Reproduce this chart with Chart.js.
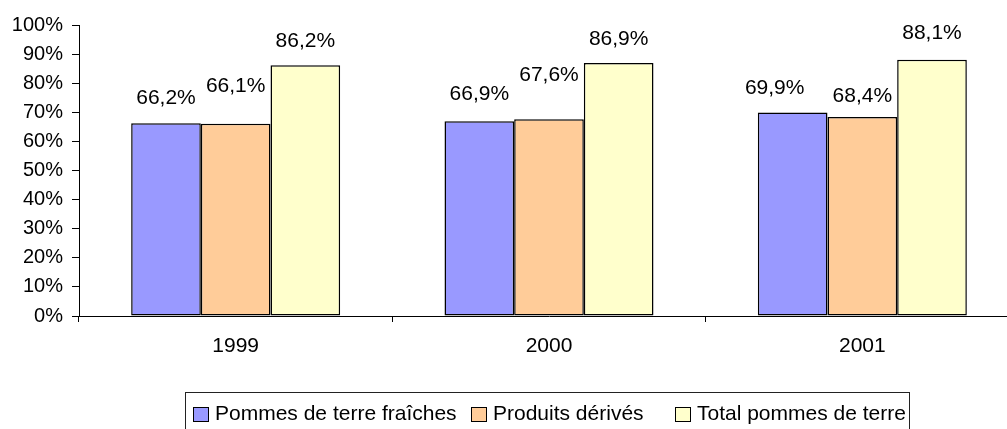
<!DOCTYPE html>
<html>
<head>
<meta charset="utf-8">
<script src="https://cdn.jsdelivr.net/npm/chart.js@4.4.1/dist/chart.umd.min.js"></script>
<style>
  html, body { margin: 0; padding: 0; background: #fff; overflow: hidden; }
  #wrap { width: 1007px; height: 429px; overflow: hidden; position: relative; }
  canvas { display: block; }
</style>
</head>
<body>
<div id="wrap"><canvas id="c" width="1019" height="429"></canvas></div>
<script>
// ---- data ----
const categories = ['1999', '2000', '2001'];
const seriesNames = ['Pommes de terre fraîches', 'Produits dérivés', 'Total pommes de terre'];
const fresh = [66.2, 66.9, 69.9];
const derived = [66.1, 67.6, 68.4];
const total = [86.2, 86.9, 88.1];
const yTicks = [0, 10, 20, 30, 40, 50, 60, 70, 80, 90, 100];

// ---- styles ----
const FONT = '"Liberation Sans", Arial, sans-serif';
const colors = ['#9999FF', '#FFCC99', '#FFFFCC'];
// label placement tweaks (px above bar top, horizontal nudge)
const labelLift = [[25, 27, 24], [37, 44, 21], [24, 24, 26]];
const labelShift = [[0, 0, -18], [0, 0, 0], [0, 0, 0]];
const legendItemX = [193, 471, 675];

const fmt = v => v.toFixed(1).replace('.', ',') + '%';

const labelPlugin = {
  id: 'barLabels',
  afterDatasetsDraw(chart) {
    const ctx = chart.ctx;
    ctx.save();
    ctx.font = '21px ' + FONT;
    ctx.fillStyle = '#000';
    ctx.textAlign = 'center';
    ctx.textBaseline = 'middle';
    chart.data.datasets.forEach((ds, di) => {
      const meta = chart.getDatasetMeta(di);
      meta.data.forEach((el, i) => {
        ctx.fillText(fmt(ds.data[i]), el.x + labelShift[di][i], el.y - labelLift[di][i]);
      });
    });
    ctx.restore();
  }
};

const legendPlugin = {
  id: 'boxLegend',
  afterDraw(chart) {
    const ctx = chart.ctx;
    ctx.save();
    ctx.strokeStyle = '#222';
    ctx.lineWidth = 1;
    ctx.strokeRect(185.5, 392.5, 724, 50);
    ctx.font = '21px ' + FONT;
    ctx.textBaseline = 'middle';
    ctx.textAlign = 'left';
    chart.data.datasets.forEach((ds, di) => {
      const x = legendItemX[di];
      ctx.fillStyle = ds.backgroundColor;
      ctx.fillRect(x + 0.5, 407.5, 15, 14);
      ctx.strokeStyle = '#000';
      ctx.strokeRect(x + 0.5, 407.5, 15, 14);
      ctx.fillStyle = '#000';
      ctx.fillText(ds.label, x + 22, 414.5);
    });
    ctx.restore();
  }
};

new Chart(document.getElementById('c'), {
  type: 'bar',
  data: {
    labels: categories,
    datasets: [fresh, derived, total].map((d, i) => ({
      label: seriesNames[i],
      data: d,
      backgroundColor: colors[i],
      borderColor: '#000',
      borderWidth: 1.5,
      borderSkipped: false,
      categoryPercentage: 0.667,
      barPercentage: 1.0
    }))
  },
  options: {
    responsive: false,
    animation: false,
    devicePixelRatio: 1,
    layout: { padding: { top: 25, left: 0, right: 0, bottom: 0 } },
    plugins: { legend: { display: false }, tooltip: { enabled: false } },
    scales: {
      x: {
        offset: true,
        grid: { display: true, drawOnChartArea: false, drawTicks: true, tickLength: 6, color: '#000', offset: true },
        border: { display: true, color: '#000', width: 1 },
        ticks: { color: '#000', font: { family: FONT, size: 21 }, padding: 12, maxRotation: 0 },
        afterFit(scale) { scale.height = 113; }
      },
      y: {
        min: 0, max: 100,
        afterBuildTicks(scale) { scale.ticks = yTicks.map(v => ({ value: v })); },
        grid: { display: true, drawOnChartArea: false, drawTicks: true, tickLength: 7, color: '#000' },
        border: { display: true, color: '#000', width: 1 },
        ticks: { color: '#000', font: { family: FONT, size: 20 }, padding: 9, callback: v => v + '%' },
        afterFit(scale) { scale.width = 79; }
      }
    }
  },
  plugins: [labelPlugin, legendPlugin]
});
</script>
</body>
</html>
